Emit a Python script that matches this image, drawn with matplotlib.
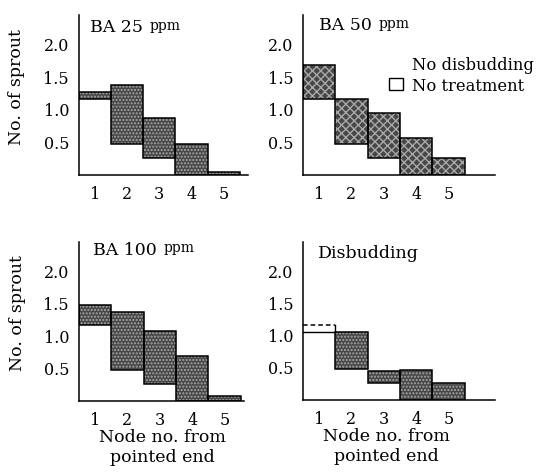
import matplotlib.pyplot as plt
import numpy as np

plt.rcParams['font.family'] = 'DejaVu Serif'

# data
nodes = [1, 2, 3, 4, 5]
no_treatment = [1.17, 0.48, 0.26, 0.0, 0.0]
ba25 = [1.28, 1.38, 0.88, 0.48, 0.05]
ba50 = [1.68, 1.17, 0.95, 0.57, 0.26]
ba100 = [1.49, 1.38, 1.08, 0.69, 0.07]
disbudding = [1.05, 1.05, 0.45, 0.47, 0.26]

yticks = [0.5, 1.0, 1.5, 2.0]
ytick_labels = ['0.5', '1.0', '1.5', '2.0']

fig = plt.figure(figsize=(5.4, 4.75), dpi=100)

ax1 = fig.add_axes([0.146, 0.632, 0.313, 0.337])
ax2 = fig.add_axes([0.561, 0.632, 0.356, 0.337])
ax3 = fig.add_axes([0.146, 0.156, 0.306, 0.335])
ax4 = fig.add_axes([0.561, 0.158, 0.356, 0.333])


def draw_panel(ax, treated, hatch, xmax):
    x = np.array(nodes, dtype=float)
    up = np.array(treated)
    low = np.array(no_treatment)
    ok = up >= low
    # shaded part between no-treatment level and treated level
    ax.bar(x[ok], (up - low)[ok], bottom=low[ok], width=1.0,
           color='#474747', hatch=hatch, edgecolor='#a8a8a8', linewidth=0)
    ax.bar(x[ok], (up - low)[ok], bottom=low[ok], width=1.0,
           fill=False, edgecolor='black', linewidth=1.1)
    # treated below control: solid treated level, dashed control level
    for xi, u, l in zip(x[~ok], up[~ok], low[~ok]):
        ax.plot([xi - 0.5, xi + 0.5], [u, u], color='black', lw=1.0)
        ax.plot([xi - 0.5, xi + 0.5], [l, l], color='black', lw=1.1, ls=(0, (3, 2)))
        ax.plot([xi + 0.5, xi + 0.5], [u, l], color='black', lw=1.0)
    ax.set_xlim(0.5, xmax)
    ax.set_ylim(0, 2.46)
    ax.set_xticks(nodes)
    ax.set_yticks(yticks)
    ax.set_yticklabels(ytick_labels)
    ax.tick_params(length=0, labelsize=11.5)
    ax.tick_params(axis='y', pad=7)
    ax.tick_params(axis='x', pad=8)
    for s in ['top', 'right']:
        ax.spines[s].set_visible(False)
    for s in ['left', 'bottom']:
        ax.spines[s].set_linewidth(1.1)


draw_panel(ax1, ba25, '.....', 5.75)
draw_panel(ax2, ba50, 'xxxx', 6.44)
draw_panel(ax3, ba100, '.....', 5.6)
draw_panel(ax4, disbudding, '.....', 6.44)


def title(ax, x, y, main, unit=None):
    t = ax.text(x, y, main, fontsize=12.5, va='center', ha='left')
    if unit:
        ax.annotate(unit, xy=(1, 0.2), xycoords=t, xytext=(5, 0),
                    textcoords='offset points', fontsize=10, va='bottom')


title(ax1, 0.84, 2.26, 'BA 25', 'ppm')
title(ax2, 0.99, 2.29, 'BA 50', 'ppm')
title(ax3, 0.94, 2.33, 'BA 100', 'ppm')
title(ax4, 0.96, 2.28, 'Disbudding')

# y labels on left panels
for ax in (ax1, ax3):
    ax.text(-0.37, 0.55, 'No. of sprout', transform=ax.transAxes,
            rotation=90, fontsize=12.5, ha='center', va='center')

# x labels on bottom panels
for ax in (ax3, ax4):
    tr = ax.get_xaxis_transform()
    ax.text(3.07, -0.23, 'Node no. from', transform=tr, fontsize=12.5,
            ha='center', va='center')
    ax.text(3.07, -0.355, 'pointed end', transform=tr, fontsize=12.5,
            ha='center', va='center')

# legend box in the top-right panel
ax2.add_patch(plt.Rectangle((3.15, 1.31), 0.45, 0.18, facecolor='white',
                            edgecolor='black', linewidth=1.0, clip_on=False))
ax2.text(3.86, 1.68, 'No disbudding', fontsize=11.8, va='center', clip_on=False)
ax2.text(3.86, 1.35, 'No treatment', fontsize=11.8, va='center', clip_on=False)

fig.savefig('out.png', dpi=100)
